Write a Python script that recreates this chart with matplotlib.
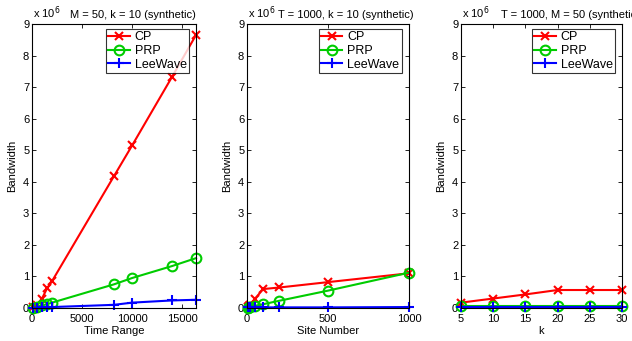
import numpy as np
import matplotlib.pyplot as plt

plt.rcParams['font.family'] = ['Liberation Sans', 'DejaVu Sans']

# values in units of 1e6
time_range = [100, 500, 1000, 1500, 2000, 8192, 10000, 14000, 16384]
cp_time = [0.02, 0.1, 0.3, 0.62, 0.85, 4.18, 5.15, 7.33, 8.65]
prp_time = [0.01, 0.04, 0.08, 0.12, 0.17, 0.75, 0.95, 1.33, 1.58]
lw_time = [0.01, 0.01, 0.02, 0.02, 0.03, 0.1, 0.17, 0.24, 0.26]

site_num = [5, 10, 20, 50, 100, 200, 500, 1000]
cp_site = [0.02, 0.05, 0.1, 0.3, 0.6, 0.65, 0.82, 1.1]
prp_site = [0.01, 0.02, 0.04, 0.07, 0.12, 0.23, 0.55, 1.12]
lw_site = [0.02, 0.02, 0.02, 0.02, 0.02, 0.02, 0.02, 0.03]

k_vals = [5, 10, 15, 20, 25, 30]
cp_k = [0.17, 0.3, 0.43, 0.57, 0.57, 0.57]
prp_k = [0.05, 0.05, 0.05, 0.05, 0.05, 0.05]
lw_k = [0.02, 0.02, 0.02, 0.02, 0.02, 0.02]

panels = [
    (time_range, cp_time, prp_time, lw_time, 'Time Range', 'M = 50, k = 10 (synthetic)',
     (0, 16384), [0, 5000, 10000, 15000], [32, 164], 70),
    (site_num, cp_site, prp_site, lw_site, 'Site Number', 'T = 1000, k = 10 (synthetic)',
     (0, 1000), [0, 500, 1000], [247, 162], 278),
    (k_vals, cp_k, prp_k, lw_k, 'k', 'T = 1000, M = 50 (synthetic)',
     (5, 30), [5, 10, 15, 20, 25, 30], [461, 161], 501),
]

W, H = 632, 341
fig = plt.figure(figsize=(W / 100, H / 100), dpi=100)
red, green, blue = '#ff0000', '#00cc00', '#0000ff'

for x, cp, prp, lw, xl, title, xlim, xt, pos, tx in panels:
    ax = fig.add_axes([pos[0] / W, 33 / H, pos[1] / W, 284 / H])
    ax.plot(x, cp, color=red, marker='x', ms=6, mew=1.5, lw=1.5, label='CP', clip_on=False)
    ax.plot(x, prp, color=green, marker='o', ms=7, mfc='none', mew=1.5, lw=1.5, label='PRP', clip_on=False)
    ax.plot(x, lw, color=blue, marker='+', ms=7.5, mew=1.5, lw=1.5, label='LeeWave', clip_on=False)
    ax.set_xlim(*xlim)
    ax.set_ylim(0, 9)
    ax.set_xticks(xt)
    ax.set_yticks(range(10))
    ax.tick_params(axis='both', direction='in', length=3, width=0.6, top=True, right=True, labelsize=8)
    ax.tick_params(axis='x', pad=4)
    ax.tick_params(axis='y', pad=2)
    for s in ax.spines.values():
        s.set_linewidth(0.8)
    ax.set_xlabel(xl, fontsize=8, labelpad=2)
    ax.set_ylabel('Bandwidth', fontsize=8, labelpad=4)
    leg = ax.legend(loc='upper right', bbox_to_anchor=(1 - 7 / pos[1], 1 - 5 / 284),
                    fontsize=9, frameon=True, fancybox=False,
                    edgecolor='black', handlelength=1.7, handletextpad=0.4,
                    borderpad=0.2, labelspacing=0.12, borderaxespad=0)
    leg.get_frame().set_linewidth(0.8)
    fig.text((pos[0] + 1) / W, 1 - 18 / H, r'x 10$^{6}$', fontsize=8, ha='left', va='baseline')
    fig.text(tx / W, 1 - 18 / H, title, fontsize=8, ha='left', va='baseline')

fig.savefig('out.png', dpi=100)
